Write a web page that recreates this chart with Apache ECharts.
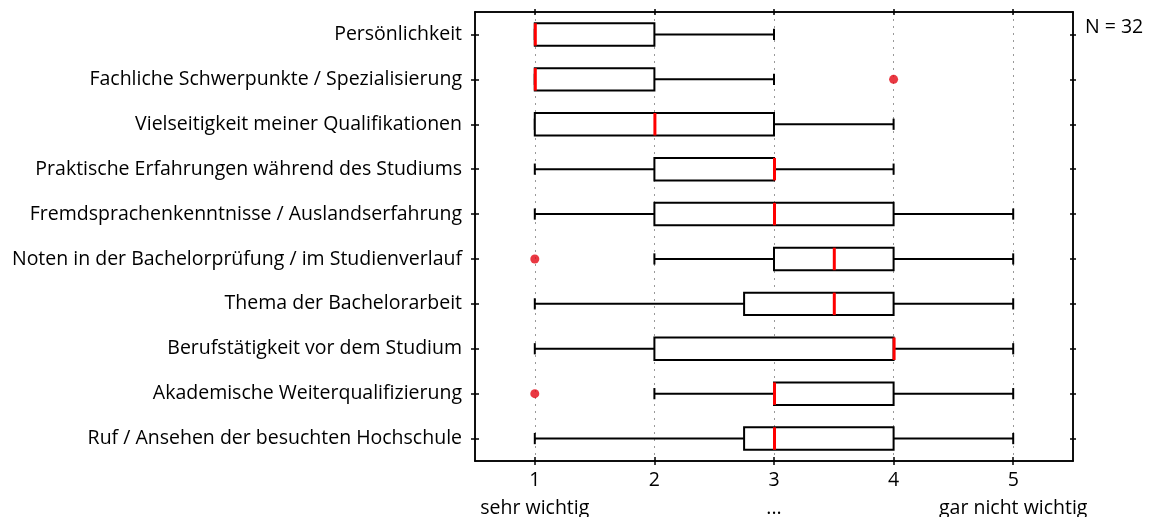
<!DOCTYPE html>
<html>
<head>
<meta charset="utf-8">
<script src="https://cdn.jsdelivr.net/npm/echarts@6/dist/echarts.min.js"></script>
<style>
html,body{margin:0;padding:0;background:#fff;}
#chart{width:1162px;height:517px;}
</style>
</head>
<body>
<div id="chart"></div>
<script>
// Survey items (top to bottom)
const categories = [
  'Persönlichkeit',
  'Fachliche Schwerpunkte / Spezialisierung',
  'Vielseitigkeit meiner Qualifikationen',
  'Praktische Erfahrungen während des Studiums',
  'Fremdsprachenkenntnisse / Auslandserfahrung',
  'Noten in der Bachelorprüfung / im Studienverlauf',
  'Thema der Bachelorarbeit',
  'Berufstätigkeit vor dem Studium',
  'Akademische Weiterqualifizierung',
  'Ruf / Ansehen der besuchten Hochschule'
];
// Five-number summaries per item
const whiskerLow = [1, 1, 1, 1, 1, 2, 1, 1, 2, 1];
const quartile1  = [1, 1, 1, 2, 2, 3, 2.75, 2, 3, 2.75];
const medians    = [1, 1, 2, 3, 3, 3.5, 3.5, 4, 3, 3];
const quartile3  = [2, 2, 3, 3, 4, 4, 4, 4, 4, 4];
const whiskerHigh= [3, 3, 4, 4, 5, 5, 5, 5, 5, 5];
// Outliers: [value, item index]
const outliers = [[4, 1], [1, 5], [1, 8]];
// Scale tick labels
const tickLabels = {1: '1\nsehr wichtig', 2: '2', 3: '3\n...', 4: '4', 5: '5\ngar nicht wichtig'};
const sampleNote = 'N = 32';

const font = '"Open Sans", "DejaVu Sans", sans-serif';
const fs = 19.5;
const boxData = categories.map((c, i) => [i, whiskerLow[i], quartile1[i], medians[i], quartile3[i], whiskerHigh[i]]);

function renderBox(params, api) {
  const idx = api.value(0);
  const lo = api.coord([api.value(1), idx]);
  const q1 = api.coord([api.value(2), idx]);
  const md = api.coord([api.value(3), idx]);
  const q3 = api.coord([api.value(4), idx]);
  const hi = api.coord([api.value(5), idx]);
  const band = api.size([0, 1])[1];
  const bh = band * 0.5;
  const ch = band * 0.25;
  const y = lo[1];
  const line = {stroke: '#000', lineWidth: 2};
  return {
    type: 'group',
    children: [
      {type: 'line', shape: {x1: lo[0], y1: y, x2: q1[0], y2: y}, style: line},
      {type: 'line', shape: {x1: q3[0], y1: y, x2: hi[0], y2: y}, style: line},
      {type: 'line', shape: {x1: lo[0], y1: y - ch / 2, x2: lo[0], y2: y + ch / 2}, style: line},
      {type: 'line', shape: {x1: hi[0], y1: y - ch / 2, x2: hi[0], y2: y + ch / 2}, style: line},
      {type: 'rect', shape: {x: q1[0], y: y - bh / 2, width: q3[0] - q1[0], height: bh},
        style: {fill: '#fff', stroke: '#000', lineWidth: 2}},
      {type: 'line', shape: {x1: md[0] + 0.5, y1: y - bh / 2, x2: md[0] + 0.5, y2: y + bh / 2},
        style: {stroke: '#ff0000', lineWidth: 3}}
    ]
  };
}

const chart = echarts.init(document.getElementById('chart'), null, {renderer: 'canvas'});

const baseX = {
  type: 'value', min: 0.5, max: 5.5, interval: 0.5,
  axisLine: {show: true, lineStyle: {color: '#000', width: 1.5}},
  splitLine: {show: false}
};
const baseY = {
  type: 'category', data: categories, inverse: true,
  axisLine: {show: true, lineStyle: {color: '#000', width: 1.5}},
  splitLine: {show: false}
};

chart.setOption({
  animation: false,
  backgroundColor: '#fff',
  grid: {left: 475, right: 89, top: 12, bottom: 56, containLabel: false, outerBoundsMode: 'none'},
  graphic: [{
    type: 'text', left: 1085, top: 17,
    style: {text: sampleNote, font: fs + 'px ' + font, fill: '#000'}
  }],
  xAxis: [
    Object.assign({}, baseX, {
      position: 'bottom',
      axisTick: {show: true, length: 4, inside: false, lineStyle: {color: '#000', width: 1.5},
        customValues: [1, 2, 3, 4, 5]},
      axisLabel: {
        show: true, margin: 5, color: '#000', fontFamily: font, fontSize: fs, lineHeight: 28,
        customValues: [1, 2, 3, 4, 5],
        formatter: (v) => tickLabels[v] || ''
      },
      splitLine: {show: true, lineStyle: {color: '#999', type: [2, 5], width: 1}}
    }),
    Object.assign({}, baseX, {
      position: 'bottom',
      axisTick: {show: true, length: 4, inside: true, lineStyle: {color: '#000', width: 1.5},
        customValues: [1, 2, 3, 4, 5]},
      axisLabel: {show: false}
    }),
    Object.assign({}, baseX, {
      position: 'top',
      axisTick: {show: true, length: 3, inside: false, lineStyle: {color: '#000', width: 1.5},
        customValues: [1, 2, 3, 4, 5]},
      axisLabel: {show: false}
    }),
    Object.assign({}, baseX, {
      position: 'top',
      axisTick: {show: true, length: 3, inside: true, lineStyle: {color: '#000', width: 1.5},
        customValues: [1, 2, 3, 4, 5]},
      axisLabel: {show: false}
    })
  ],
  yAxis: [
    Object.assign({}, baseY, {
      position: 'left',
      axisTick: {show: true, length: 4, inside: false, alignWithLabel: true, lineStyle: {color: '#000', width: 1.5}},
      axisLabel: {show: true, margin: 13, color: '#000', fontFamily: font, fontSize: fs}
    }),
    Object.assign({}, baseY, {
      position: 'left',
      axisTick: {show: true, length: 4, inside: true, alignWithLabel: true, lineStyle: {color: '#000', width: 1.5}},
      axisLabel: {show: false}
    }),
    Object.assign({}, baseY, {
      position: 'right',
      axisTick: {show: true, length: 3, inside: false, alignWithLabel: true, lineStyle: {color: '#000', width: 1.5}},
      axisLabel: {show: false}
    }),
    Object.assign({}, baseY, {
      position: 'right',
      axisTick: {show: true, length: 3, inside: true, alignWithLabel: true, lineStyle: {color: '#000', width: 1.5}},
      axisLabel: {show: false}
    })
  ],
  series: [
    {
      type: 'custom', xAxisIndex: 0, yAxisIndex: 0,
      renderItem: renderBox,
      encode: {x: [1, 2, 3, 4, 5], y: 0},
      data: boxData, z: 3
    },
    {
      type: 'scatter', xAxisIndex: 0, yAxisIndex: 0,
      symbol: 'circle', symbolSize: 9,
      itemStyle: {color: '#e30613'},
      data: outliers, z: 4
    }
  ]
});
</script>
</body>
</html>
